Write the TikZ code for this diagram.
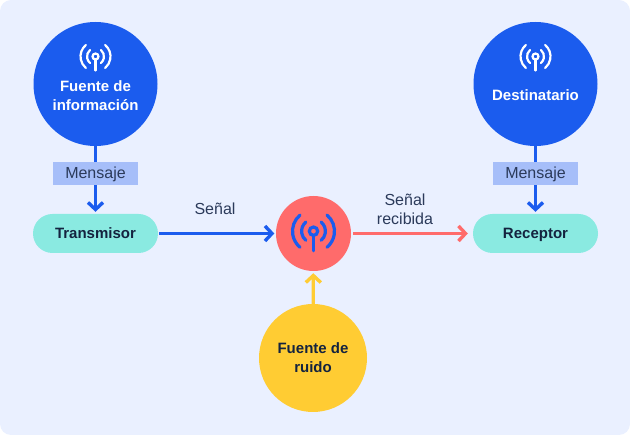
\documentclass[tikz,border=0pt]{standalone}
\usepackage{fontspec}
\setmainfont{Liberation Sans}
\usetikzlibrary{arrows.meta}
\definecolor{bgblue}{HTML}{EAF0FF}
\definecolor{mainblue}{HTML}{1B5CEE}
\definecolor{softblue}{HTML}{A6BEF9}
\definecolor{mint}{HTML}{8AEAE1}
\definecolor{coral}{HTML}{FF6B6B}
\definecolor{sun}{HTML}{FFCC33}
\definecolor{ink}{HTML}{14233F}
\definecolor{labelink}{HTML}{2B3A5A}
\tikzset{
	disc/.style={circle, inner sep=0pt, minimum size=#1},
	pill/.style={rectangle, rounded corners=19.5pt, fill=mint, minimum width=125pt, minimum height=39pt, inner sep=0pt, text=ink, text height=10.5pt, text depth=0pt, font=\fontsize{15}{18}\selectfont\bfseries},
	msgbox/.style={rectangle, fill=softblue, minimum width=85pt, minimum height=23pt, inner sep=0pt, text=labelink, text height=11pt, text depth=0pt, font=\fontsize{16}{18}\selectfont},
	caption/.style={align=center, inner sep=0pt, text=labelink, font=\fontsize{16}{18.5}\selectfont},
	heading/.style={align=center, inner sep=0pt, font=\fontsize{15}{19}\selectfont\bfseries},
	link/.style={line width=3.2pt, -{Straight Barb[length=7pt, width=15pt, line width=3.4pt]}},
	pics/antenna/.style={code={
		\draw[line cap=round, line width=#1] (0,0.5) circle (3);
		\draw[line cap=round, line width=#1] (0,3.5) -- (0,14.5);
		\foreach \r in {8.5,15} {
			\draw[line cap=round, line width=#1] (-130:\r) ++(0,0.5) arc (-130:-230:\r);
			\draw[line cap=round, line width=#1] (-50:\r) ++(0,0.5) arc (-50:50:\r);
		}
	}}
}
\begin{document}
\begin{tikzpicture}[x=1pt, y=-1pt]
	\useasboundingbox (0,0) rectangle (630,435);
	\fill[bgblue] (0,0) [rounded corners=11pt] rectangle (630,435);
	\node[disc=124pt, fill=mainblue] (source) at (95.5,84) {};
	\node[disc=124pt, fill=mainblue] (target) at (535.5,84) {};
	\node[disc=75pt, fill=coral] (channel) at (313.5,233.5) {};
	\node[disc=108pt, fill=sun] (noise) at (313,358) {};
	\node[pill] (transmitter) at (95.5,233.5) {Transmisor};
	\node[pill] (receiver) at (535.5,233.5) {Receptor};
	\draw[link, mainblue, shorten >=2pt] (source) -- (transmitter);
	\draw[link, mainblue, shorten >=2pt] (target) -- (receiver);
	\draw[link, mainblue, shorten <=1pt, shorten >=1.5pt] (transmitter) -- (channel);
	\draw[link, coral, shorten <=2pt, shorten >=5pt] (channel) -- (receiver);
	\draw[link, sun, shorten >=2pt] (noise) -- (channel);
	\node[msgbox] (msgleft) at (95.5,173.5) {Mensaje};
	\node[msgbox] (msgright) at (535.5,173.5) {Mensaje};
	\node[caption] (signal) at (215,209) {Señal};
	\node[caption] (received) at (405,209.5) {Señal\\recibida};
	\node[heading, text=white] (sourcename) at (95.5,95.5) {Fuente de\\información};
	\node[heading, text=white] (targetname) at (535.5,95.5) {Destinatario};
	\node[heading, text=ink] (noisename) at (313,358) {Fuente de\\ruido};
	\pic[white] at (95.5,56) {antenna=2.2pt};
	\pic[white] at (535.5,56) {antenna=2.2pt};
	\pic[mainblue, scale=1.4] at (313.5,230.5) {antenna=3.2pt};
\end{tikzpicture}
\end{document}
